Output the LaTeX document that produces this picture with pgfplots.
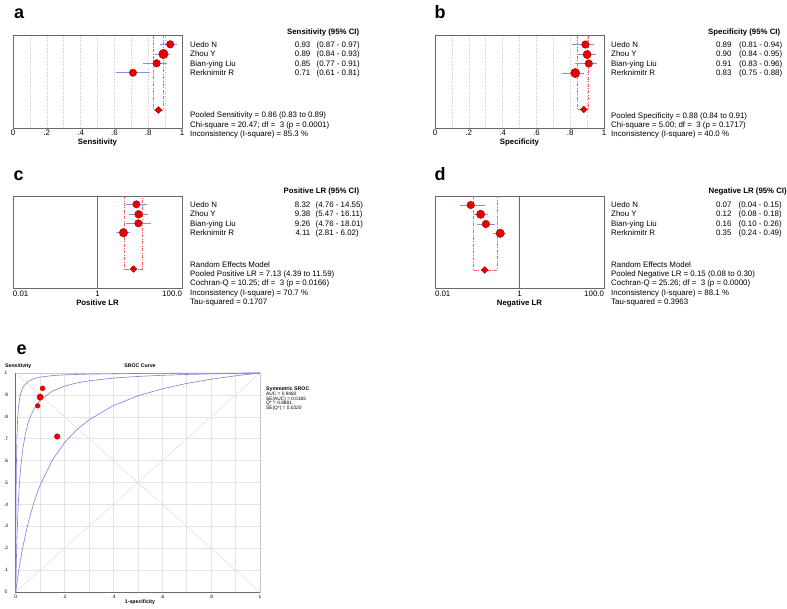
\documentclass[border=0pt]{standalone}
\usepackage{pgfplots}
\pgfplotsset{compat=1.18}
\usepackage{fontspec}
\setmainfont{Liberation Sans}
\definecolor{ptred}{RGB}{228,0,0}
\definecolor{ptdark}{RGB}{165,0,0}
\definecolor{ciblue}{RGB}{140,140,228}
\definecolor{dashred}{RGB}{245,95,95}
\definecolor{framegray}{RGB}{105,105,105}
\definecolor{dotgray}{RGB}{200,200,200}
\definecolor{gridgray}{RGB}{228,228,228}
\definecolor{diaggray}{RGB}{222,222,222}
\definecolor{curveblue}{RGB}{125,125,220}
\newcommand{\fA}{\fontsize{7.9}{9}\selectfont}
\newcommand{\fB}{\fontsize{7.8}{9}\selectfont\bfseries}
\newcommand{\fE}{\fontsize{4.8}{5.5}\selectfont}
\newcommand{\fEb}{\fontsize{5.2}{6}\selectfont\bfseries}
\newcommand{\fL}{\fontsize{18}{20}\selectfont\bfseries}
\pgfplotsset{
  forest/.style={scale only axis, width=169pt, height=92.5pt, ymin=0, ymax=92.5, y dir=reverse,
    ytick=\empty, axis line style={framegray, line width=0.6pt}, major tick length=0pt, minor tick length=0pt,
    xticklabel style={font=\fA, anchor=base, yshift=-7.9pt, inner sep=0pt},
    xlabel style={font=\fB, anchor=base, at={(axis description cs:0.5,0)}, yshift=-16.9pt, inner sep=0pt},
    clip=false},
  ci/.style={ciblue, line width=1pt},
  pt/.style={only marks, mark=*, mark options={fill=ptred, draw=ptdark, line width=0.4pt}},
  pool/.style={only marks, mark=square*, mark size=2.4, mark options={rotate=45, fill=ptred, draw=ptdark, line width=0.4pt}},
  pooldash/.style={dashred, line width=0.7pt, dash pattern=on 3pt off 1.5pt on 0.8pt off 1.5pt},
}
\begin{document}
\begin{tikzpicture}
\useasboundingbox (0pt,0pt) rectangle (787pt,-608pt);
% ---------------- a ----------------
\begin{axis}[forest, at={(13pt,-35.5pt)}, anchor=north west, xmin=0, xmax=1,
  xtick={0,0.2,0.4,0.6,0.8,1}, xticklabels={0,.2,.4,.6,.8,1},
  minor xtick={0.1,0.3,0.5,0.7,0.9},
  grid=both, grid style={dotgray, dotted, line width=0.5pt}, xlabel={Sensitivity}]
\addplot[pooldash] coordinates {(0.83,0) (0.83,74.5) (0.89,74.5) (0.89,0)};
\addplot[ci] coordinates {(0.87,8.8) (0.97,8.8)};
\addplot[ci] coordinates {(0.84,18.5) (0.93,18.5)};
\addplot[ci] coordinates {(0.77,27.8) (0.91,27.8)};
\addplot[ci] coordinates {(0.61,37.2) (0.81,37.2)};
\addplot[pt, mark size=3.8] coordinates {(0.93,8.8)};
\addplot[pt, mark size=4.7] coordinates {(0.89,18.5)};
\addplot[pt, mark size=3.8] coordinates {(0.85,27.8)};
\addplot[pt, mark size=3.7] coordinates {(0.71,37.2)};
\addplot[pool] coordinates {(0.86,74.5)};
\end{axis}
% ---------------- b ----------------
\begin{axis}[forest, at={(435pt,-35.5pt)}, anchor=north west, xmin=0, xmax=1,
  xtick={0,0.2,0.4,0.6,0.8,1}, xticklabels={0,.2,.4,.6,.8,1},
  minor xtick={0.1,0.3,0.5,0.7,0.9},
  grid=both, grid style={dotgray, dotted, line width=0.5pt}, xlabel={Specificity}]
\addplot[pooldash] coordinates {(0.84,0) (0.84,74) (0.91,74) (0.91,0)};
\addplot[ci] coordinates {(0.81,9) (0.94,9)};
\addplot[ci] coordinates {(0.84,19) (0.95,19)};
\addplot[ci] coordinates {(0.83,28) (0.96,28)};
\addplot[ci] coordinates {(0.75,37.5) (0.88,37.5)};
\addplot[pt, mark size=3.8] coordinates {(0.89,9)};
\addplot[pt, mark size=4.1] coordinates {(0.90,19)};
\addplot[pt, mark size=3.8] coordinates {(0.91,28)};
\addplot[pt, mark size=4.6] coordinates {(0.83,37.5)};
\addplot[pool] coordinates {(0.88,74)};
\end{axis}
% ---------------- c ----------------
\begin{axis}[forest, at={(13pt,-196pt)}, anchor=north west, xmode=log, xmin=0.01, xmax=100,
  xtick={0.01,1,100}, xticklabels={\makebox[0pt][l]{0.01},1,\makebox[0pt][r]{100.0}},
  xlabel={Positive LR}]
\addplot[framegray, line width=0.6pt] coordinates {(1,0) (1,92.5)};
\addplot[pooldash] coordinates {(4.39,0) (4.39,73) (11.59,73) (11.59,0)};
\addplot[ci] coordinates {(4.76,8.3) (14.55,8.3)};
\addplot[ci] coordinates {(5.47,18.3) (16.11,18.3)};
\addplot[ci] coordinates {(4.76,27.3) (18.01,27.3)};
\addplot[ci] coordinates {(2.81,36.7) (6.02,36.7)};
\addplot[pt, mark size=3.7] coordinates {(8.32,8.3)};
\addplot[pt, mark size=3.9] coordinates {(9.38,18.3)};
\addplot[pt, mark size=3.7] coordinates {(9.26,27.3)};
\addplot[pt, mark size=4.2] coordinates {(4.11,36.7)};
\addplot[pool] coordinates {(7.13,73)};
\end{axis}
% ---------------- d ----------------
\begin{axis}[forest, at={(435pt,-196pt)}, anchor=north west, xmode=log, xmin=0.01, xmax=100,
  xtick={0.01,1,100}, xticklabels={\makebox[0pt][l]{0.01},1,\makebox[0pt][r]{100.0}},
  xlabel={Negative LR}]
\addplot[framegray, line width=0.6pt] coordinates {(1,0) (1,92.5)};
\addplot[pooldash] coordinates {(0.08,0) (0.08,74) (0.30,74) (0.30,0)};
\addplot[ci] coordinates {(0.04,9) (0.15,9)};
\addplot[ci] coordinates {(0.08,18.3) (0.18,18.3)};
\addplot[ci] coordinates {(0.10,28) (0.26,28)};
\addplot[ci] coordinates {(0.24,37.3) (0.49,37.3)};
\addplot[pt, mark size=3.8] coordinates {(0.07,9)};
\addplot[pt, mark size=4.2] coordinates {(0.12,18.3)};
\addplot[pt, mark size=3.8] coordinates {(0.16,28)};
\addplot[pt, mark size=4.2] coordinates {(0.35,37.3)};
\addplot[pool] coordinates {(0.15,74)};
\end{axis}
% ---------------- e ----------------
\begin{axis}[scale only axis, width=244.3pt, height=219pt, at={(15.7pt,-373pt)}, anchor=north west,
  xmin=0, xmax=1, ymin=0, ymax=1,
  xtick={0,0.2,0.4,0.6,0.8,1}, xticklabels={0,.2,.4,.6,.8,1},
  minor xtick={0.1,0.3,0.5,0.7,0.9},
  ytick={0,0.1,0.2,0.3,0.4,0.5,0.6,0.7,0.8,0.9,1}, yticklabels={0,.1,.2,.3,.4,.5,.6,.7,.8,.9,1},
  grid=both, grid style={gridgray, line width=0.5pt},
  major tick length=0pt, minor tick length=0pt,
  axis line style={draw=gray!45, line width=0.5pt},
  xticklabel style={font=\fE, anchor=base, yshift=-6.2pt, inner sep=0pt},
  yticklabel style={font=\fE, anchor=center, xshift=-9.7pt, inner sep=0pt},
  clip=false]
\addplot[diaggray, line width=0.5pt] coordinates {(0,0) (1,1)};
\addplot[diaggray, line width=0.5pt] coordinates {(0,1) (1,0)};
\draw[gray!85!black, line width=0.6pt] (rel axis cs:0,1) -- (rel axis cs:0,0) -- (rel axis cs:1,0);
% upper curve
\addplot[curveblue, line width=0.6pt] coordinates {(0,0) (0.0002,0.0857) (0.0005,0.19) (0.001,0.3193) (0.002,0.4843) (0.003,0.5851) (0.005,0.702) (0.0075,0.7798) (0.01,0.8256) (0.015,0.8771) (0.02,0.9054) (0.03,0.9355) (0.05,0.961) (0.075,0.9744) (0.1,0.9812) (0.15,0.9881) (0.2,0.9915) (0.3,0.995) (0.5,0.9979) (0.7,0.9991) (1,1)};
% middle curve
\addplot[curveblue, line width=0.6pt] coordinates {(0,0) (0.001,0.0593) (0.002,0.1121) (0.005,0.2405) (0.01,0.3889) (0.015,0.4896) (0.02,0.5625) (0.03,0.6608) (0.04,0.7241) (0.05,0.7683) (0.06,0.8008) (0.075,0.8363) (0.1,0.875) (0.15,0.9175) (0.2,0.9403) (0.25,0.9545) (0.3,0.9643) (0.4,0.9767) (0.5,0.9844) (0.6,0.9895) (0.7,0.9932) (0.8,0.996) (0.9,0.9982) (1,1)};
% lower curve
\addplot[curveblue, line width=0.6pt] coordinates {(0,0) (0.005,0.0414) (0.01,0.0798) (0.02,0.1491) (0.03,0.2098) (0.05,0.3112) (0.075,0.4104) (0.1,0.4882) (0.15,0.6024) (0.2,0.6822) (0.25,0.741) (0.3,0.7863) (0.4,0.8513) (0.5,0.8957) (0.6,0.9279) (0.7,0.9525) (0.8,0.9717) (0.9,0.9872) (1,1)};
\addplot[only marks, mark=*, mark size=2.5, mark options={fill=ptred, draw=ptred}] coordinates {(0.11,0.93)};
\addplot[only marks, mark=*, mark size=3.2, mark options={fill=ptred, draw=ptred}] coordinates {(0.10,0.89)};
\addplot[only marks, mark=*, mark size=2.4, mark options={fill=ptred, draw=ptred}] coordinates {(0.09,0.85)};
\addplot[only marks, mark=*, mark size=2.8, mark options={fill=ptred, draw=ptred}] coordinates {(0.17,0.71)};
\end{axis}
% ---------------- texts ----------------
\begin{scope}[x=1pt, y=-1pt, every node/.style={inner sep=0pt, font=\fA}]
% labels
\node[anchor=base west, font=\fL] at (14,18.3) {a};
\node[anchor=base west, font=\fL] at (434.5,18.3) {b};
\node[anchor=base west, font=\fL] at (13.3,180) {c};
\node[anchor=base west, font=\fL] at (434.3,180.5) {d};
\node[anchor=base west, font=\fL] at (16.5,354) {e};
% a
\node[anchor=base west, font=\fB] at (287,34) {Sensitivity (95\% CI)};
\node[anchor=base west] at (190,47.3) {Uedo N};
\node[anchor=base west] at (190,56.7) {Zhou Y};
\node[anchor=base west] at (190,66) {Bian-ying Liu};
\node[anchor=base west] at (190,75.7) {Rerknimitr R};
\node[anchor=base east] at (310.5,47.3) {0.93};
\node[anchor=base east] at (310.5,56.7) {0.89};
\node[anchor=base east] at (310.5,66) {0.85};
\node[anchor=base east] at (310.5,75.7) {0.71};
\node[anchor=base west] at (316.5,47.3) {(0.87 - 0.97)};
\node[anchor=base west] at (316.5,56.7) {(0.84 - 0.93)};
\node[anchor=base west] at (316.5,66) {(0.77 - 0.91)};
\node[anchor=base west] at (316.5,75.7) {(0.61 - 0.81)};
\node[anchor=base west] at (190,117.7) {Pooled Sensitivity = 0.86 (0.83 to 0.89)};
\node[anchor=base west] at (190,127) {Chi-square = 20.47; df = \ 3 (p = 0.0001)};
\node[anchor=base west] at (190,136) {Inconsistency (I-square) = 85.3 \%};
% b
\node[anchor=base west, font=\fB] at (708,34) {Specificity (95\% CI)};
\node[anchor=base west] at (611,47.3) {Uedo N};
\node[anchor=base west] at (611,56.7) {Zhou Y};
\node[anchor=base west] at (611,66) {Bian-ying Liu};
\node[anchor=base west] at (611,75.7) {Rerknimitr R};
\node[anchor=base east] at (731.7,47.3) {0.89};
\node[anchor=base east] at (731.7,56.7) {0.90};
\node[anchor=base east] at (731.7,66) {0.91};
\node[anchor=base east] at (731.7,75.7) {0.83};
\node[anchor=base west] at (739,47.3) {(0.81 - 0.94)};
\node[anchor=base west] at (739,56.7) {(0.84 - 0.95)};
\node[anchor=base west] at (739,66) {(0.83 - 0.96)};
\node[anchor=base west] at (739,75.7) {(0.75 - 0.88)};
\node[anchor=base west] at (611,118.3) {Pooled Specificity = 0.88 (0.84 to 0.91)};
\node[anchor=base west] at (611,127.3) {Chi-square = 5.00; df = \ 3 (p = 0.1717)};
\node[anchor=base west] at (611,136.3) {Inconsistency (I-square) = 40.0 \%};
% c
\node[anchor=base west, font=\fB] at (283.5,193.3) {Positive LR (95\% CI)};
\node[anchor=base west] at (190,207.7) {Uedo N};
\node[anchor=base west] at (190,216.9) {Zhou Y};
\node[anchor=base west] at (190,226.2) {Bian-ying Liu};
\node[anchor=base west] at (190,235.6) {Rerknimitr R};
\node[anchor=base east] at (310.5,207.7) {8.32};
\node[anchor=base east] at (310.5,216.9) {9.38};
\node[anchor=base east] at (310.5,226.2) {9.26};
\node[anchor=base east] at (310.5,235.6) {4.11};
\node[anchor=base west] at (315.5,207.7) {(4.76 - 14.55)};
\node[anchor=base west] at (315.5,216.9) {(5.47 - 16.11)};
\node[anchor=base west] at (315.5,226.2) {(4.76 - 18.01)};
\node[anchor=base west] at (315.5,235.6) {(2.81 - 6.02)};
\node[anchor=base west] at (190,267.3) {Random Effects Model};
\node[anchor=base west] at (190,276.6) {Pooled Positive LR = 7.13 (4.39 to 11.59)};
\node[anchor=base west] at (190,285.9) {Cochran-Q = 10.25; df = \ 3 (p = 0.0166)};
\node[anchor=base west] at (190,295.2) {Inconsistency (I-square) = 70.7 \%};
\node[anchor=base west] at (190,304.5) {Tau-squared = 0.1707};
% d
\node[anchor=base west, font=\fB] at (708.5,193.3) {Negative LR (95\% CI)};
\node[anchor=base west] at (611,207.7) {Uedo N};
\node[anchor=base west] at (611,216.9) {Zhou Y};
\node[anchor=base west] at (611,226.2) {Bian-ying Liu};
\node[anchor=base west] at (611,235.6) {Rerknimitr R};
\node[anchor=base east] at (731.7,207.7) {0.07};
\node[anchor=base east] at (731.7,216.9) {0.12};
\node[anchor=base east] at (731.7,226.2) {0.16};
\node[anchor=base east] at (731.7,235.6) {0.35};
\node[anchor=base west] at (738.5,207.7) {(0.04 - 0.15)};
\node[anchor=base west] at (738.5,216.9) {(0.08 - 0.18)};
\node[anchor=base west] at (738.5,226.2) {(0.10 - 0.26)};
\node[anchor=base west] at (738.5,235.6) {(0.24 - 0.49)};
\node[anchor=base west] at (611,267.3) {Random Effects Model};
\node[anchor=base west] at (611,276.6) {Pooled Negative LR = 0.15 (0.08 to 0.30)};
\node[anchor=base west] at (611,285.9) {Cochran-Q = 25.26; df = \ 3 (p = 0.0000)};
\node[anchor=base west] at (611,295.2) {Inconsistency (I-square) = 88.1 \%};
\node[anchor=base west] at (611,304.5) {Tau-squared = 0.3963};
% e
\node[anchor=base west, font=\fEb] at (5,367.5) {Sensitivity};
\node[anchor=base, font=\fEb] at (140,367.5) {SROC Curve};
\node[anchor=base, font=\fEb] at (140,603) {1-specificity};
\node[anchor=base west, font=\fEb] at (266,390.7) {Symmetric SROC};
\node[anchor=base west, font=\fE] at (266,395.5) {AUC = 0.9482};
\node[anchor=base west, font=\fE] at (266,400) {SE(AUC) = 0.0165};
\node[anchor=base west, font=\fE] at (266,404.5) {Q* = 0.8881};
\node[anchor=base west, font=\fE] at (266,409.2) {SE(Q*) = 0.0220};
\end{scope}
\end{tikzpicture}
\end{document}
